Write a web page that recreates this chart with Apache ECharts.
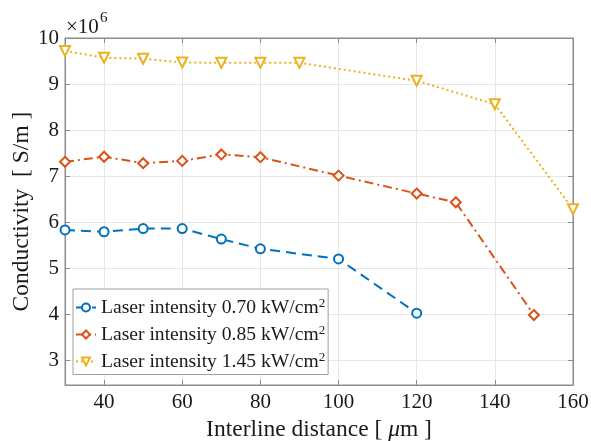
<!DOCTYPE html>
<html>
<head>
<meta charset="utf-8">
<script src="https://cdn.jsdelivr.net/npm/echarts@6/dist/echarts.min.js"></script>
<style>
html, body { margin: 0; padding: 0; background: #fff; }
#main { width: 591px; height: 441px; }
</style>
</head>
<body>
<div id="main"></div>
<script>
var xTicks = [40, 60, 80, 100, 120, 140, 160];
var yTicks = [3, 4, 5, 6, 7, 8, 9, 10];

var names = ['0.70', '0.85', '1.45'];

var x070 = [30, 40, 50, 60, 70, 80, 100, 120];
var y070 = [5.83, 5.79, 5.86, 5.86, 5.63, 5.42, 5.20, 4.02];

var x085 = [30, 40, 50, 60, 70, 80, 100, 120, 130, 150];
var y085 = [7.31, 7.42, 7.28, 7.33, 7.47, 7.41, 7.01, 6.62, 6.43, 3.98];

var x145 = [30, 40, 50, 60, 70, 80, 90, 120, 140, 160];
var y145 = [9.72, 9.57, 9.55, 9.47, 9.46, 9.46, 9.46, 9.07, 8.56, 6.28];

function pairs(xs, ys) {
    return xs.map(function (x, i) { return [x, ys[i]]; });
}

var serif = 'Liberation Serif';
var axisGray = '#8c8c8c';
var gridGray = '#e6e6e6';
var ink = '#1a1a1a';

var myChart = echarts.init(document.getElementById('main'));

function makeSeries(label, data, color, symbol, rotate, size, lineType) {
    return {
        name: label,
        type: 'line',
        data: data,
        symbol: symbol,
        symbolSize: size,
        symbolRotate: rotate,
        showAllSymbol: true,
        lineStyle: { color: color, width: 2, type: lineType },
        itemStyle: { color: '#fff', borderColor: color, borderWidth: 2 },
        emphasis: { disabled: true },
        animation: false
    };
}

var option = {
    animation: false,
    grid: {
        left: 65,
        right: 18,
        top: 38,
        bottom: 56,
        outerBoundsMode: 'none',
        containLabel: false,
        show: true,
        borderColor: axisGray,
        borderWidth: 1
    },
    graphic: [{
        type: 'text',
        style: { x: 66, y: 27, text: '×10', font: '21px "Liberation Serif"', fill: ink, verticalAlign: 'middle' }
    }, {
        type: 'text',
        style: { x: 100, y: 18, text: '6', font: '15px "Liberation Serif"', fill: ink, verticalAlign: 'middle' }
    }],
    legend: {
        orient: 'vertical',
        left: 73,
        top: 289,
        padding: [8, 3, 3, 2],
        itemWidth: 20,
        itemHeight: 10,
        itemGap: 6.5,
        backgroundColor: '#fff',
        borderColor: '#a0a0a0',
        borderWidth: 1,
        data: names.map(function (n) { return 'Laser intensity ' + n; }),
        formatter: function (name) {
            return '{a|' + name + ' kW/cm}{s|2}';
        },
        textStyle: {
            rich: {
                a: { fontFamily: serif, fontSize: 19.6, lineHeight: 21, color: ink },
                s: { fontFamily: serif, fontSize: 13, lineHeight: 21, color: ink, verticalAlign: 'top', padding: [0, 0, 6, 0] }
            }
        }
    },
    xAxis: [{
        type: 'value',
        min: 30,
        max: 160,
        name: '{a|Interline distance [ }{i|μ}{a|m ]}',
        nameLocation: 'middle',
        nameGap: 33,
        nameMoveOverlap: false,
        nameTextStyle: {
            rich: {
                a: { fontFamily: serif, fontSize: 23.5, color: ink },
                i: { fontFamily: serif, fontSize: 23.5, fontStyle: 'italic', color: ink }
            }
        },
        axisLine: { show: true, lineStyle: { color: axisGray } },
        axisTick: { show: true, inside: true, length: 5, customValues: xTicks, lineStyle: { color: axisGray } },
        axisLabel: { customValues: xTicks, fontFamily: serif, fontSize: 21, color: ink, margin: 7 },
        splitLine: { show: true, lineStyle: { color: gridGray } }
    }, {
        type: 'value',
        position: 'top',
        min: 30,
        max: 160,
        axisLine: { show: true, lineStyle: { color: axisGray } },
        axisTick: { show: true, inside: true, length: 5, customValues: xTicks, lineStyle: { color: axisGray } },
        axisLabel: { show: false },
        splitLine: { show: false }
    }],
    yAxis: [{
        type: 'value',
        min: 2.46,
        max: 10,
        name: 'Conductivity  [ S/m ]',
        nameLocation: 'middle',
        nameGap: 31,
        nameMoveOverlap: false,
        nameTextStyle: { fontFamily: serif, fontSize: 23.5, color: ink },
        axisLine: { show: true, lineStyle: { color: axisGray } },
        axisTick: { show: true, inside: true, length: 5, customValues: yTicks, lineStyle: { color: axisGray } },
        axisLabel: { customValues: yTicks, fontFamily: serif, fontSize: 21, color: ink, margin: 6 },
        splitLine: { show: true, lineStyle: { color: gridGray } }
    }, {
        type: 'value',
        position: 'right',
        min: 2.46,
        max: 10,
        axisLine: { show: true, lineStyle: { color: axisGray } },
        axisTick: { show: true, inside: true, length: 5, customValues: yTicks, lineStyle: { color: axisGray } },
        axisLabel: { show: false },
        splitLine: { show: false }
    }],
    series: [
        makeSeries('Laser intensity ' + names[0], pairs(x070, y070), '#0072BD', 'circle', 0, 9, [10, 6]),
        makeSeries('Laser intensity ' + names[1], pairs(x085, y085), '#D95319', 'diamond', 0, 10, [9, 4, 2, 4]),
        makeSeries('Laser intensity ' + names[2], pairs(x145, y145), '#EDB120', 'triangle', 180, 10, [2, 3])
    ]
};

myChart.setOption(option);
</script>
</body>
</html>
